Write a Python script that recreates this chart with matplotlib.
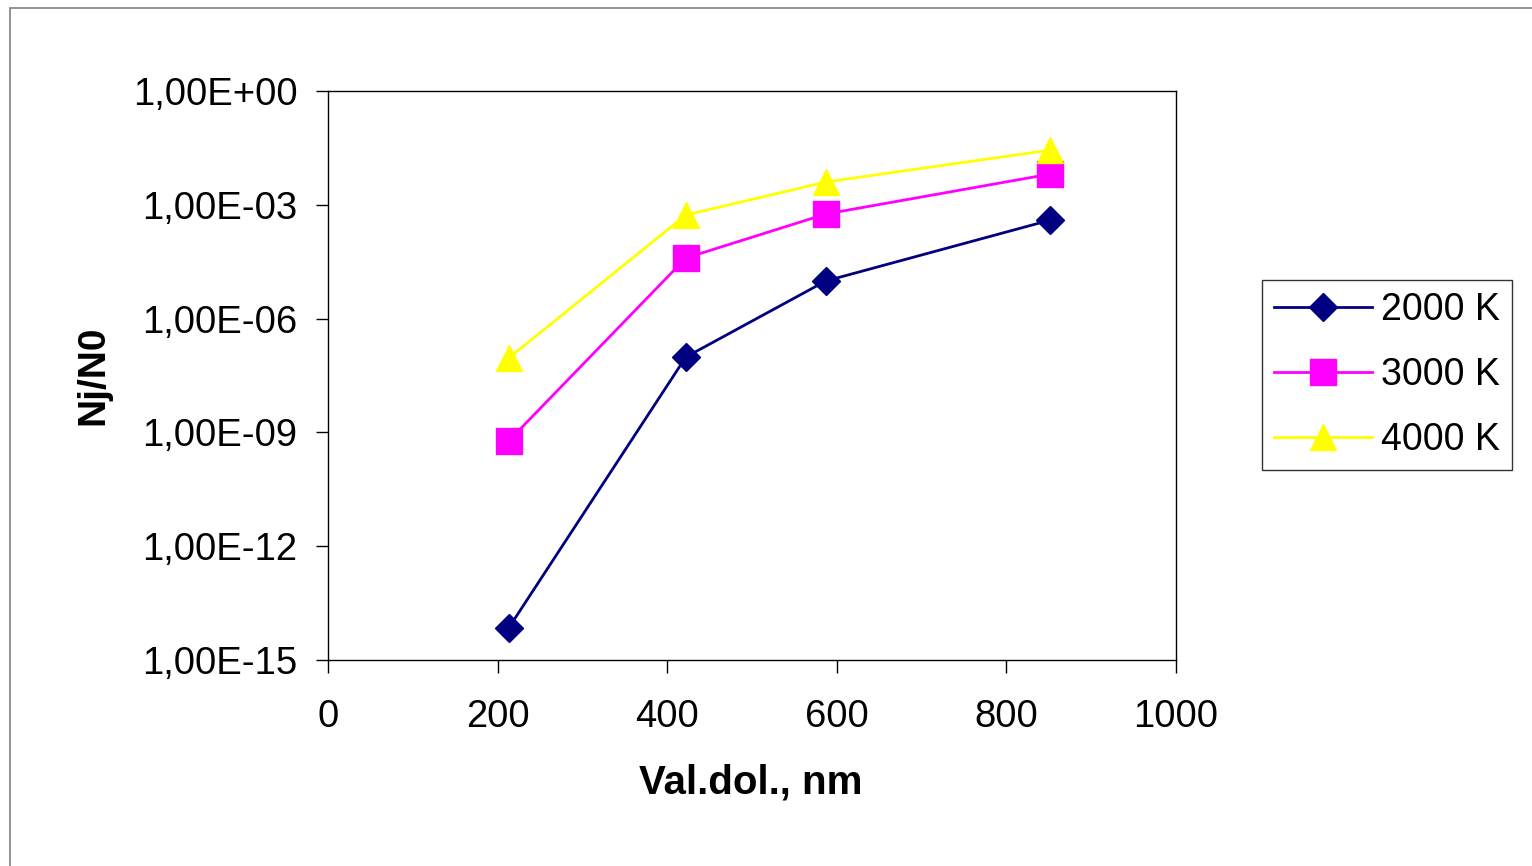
import matplotlib
matplotlib.use("Agg")
import matplotlib.pyplot as plt
from matplotlib.patches import Rectangle

plt.rcParams['font.family'] = ['Liberation Sans', 'DejaVu Sans']

# data
wavelengths = [213, 422, 587, 852]
t2000 = [6.95e-15, 9.7e-8, 9.8e-6, 3.97e-4]
t3000 = [5.93e-10, 3.95e-5, 5.71e-4, 6.48e-3]
t4000 = [9.1e-8, 5.38e-4, 3.99e-3, 2.78e-2]
series_labels = ["2000 K", "3000 K", "4000 K"]
x_ticks = [0, 200, 400, 600, 800, 1000]
y_ticks = [1e-15, 1e-12, 1e-9, 1e-6, 1e-3, 1e0]
y_tick_labels = ["1,00E-15", "1,00E-12", "1,00E-09", "1,00E-06", "1,00E-03", "1,00E+00"]
x_label = "Val.dol., nm"
y_label = "Nj/N0"

W, H = 1532, 866
fig = plt.figure(figsize=(W / 100, H / 100), dpi=100)

# outer frame
fig.patches.append(Rectangle((9.5 / W, -0.1), 1.2, 1 - 7.5 / H + 0.1,
                             transform=fig.transFigure, fill=False,
                             edgecolor='#808080', linewidth=1.2))

ax = fig.add_axes([328 / W, 1 - 660 / H, (1176 - 328) / W, (660 - 91) / H])
ax.set_yscale('log')
ax.set_xlim(0, 1000)
ax.set_ylim(1e-15, 1e0)

lw = 2.0
ax.plot(wavelengths, t2000, color='#000080', marker='D', markersize=14.5,
        linewidth=lw, label=series_labels[0])
ax.plot(wavelengths, t3000, color='#FF00FF', marker='s', markersize=19,
        linewidth=lw, label=series_labels[1])
ax.plot(wavelengths, t4000, color='#FFFF00', marker='^', markersize=19,
        linewidth=lw, label=series_labels[2])

ax.set_xticks(x_ticks)
ax.set_xticklabels([str(v) for v in x_ticks])
ax.set_yticks(y_ticks)
ax.set_yticklabels(y_tick_labels)
ax.yaxis.set_minor_locator(matplotlib.ticker.NullLocator())
ax.tick_params(axis='both', which='major', direction='out', length=9,
               width=1.0, labelsize=27.5, color='black')
ax.tick_params(axis='y', pad=13)
ax.tick_params(axis='x', pad=19)
for s in ax.spines.values():
    s.set_color('black')
    s.set_linewidth(1.0)

fig.text(751 / W, 1 - 782 / H, x_label, fontsize=29, fontweight='bold',
         ha='center', va='center')
fig.text(93 / W, 1 - 375 / H, y_label, fontsize=28, fontweight='bold',
         ha='center', va='center', rotation=90)

leg = fig.legend(loc='center left', bbox_to_anchor=(1262 / W, 1 - 375 / H),
                 fontsize=27, frameon=True, fancybox=False, shadow=False,
                 handlelength=2.6, handletextpad=0.24, labelspacing=0.77,
                 borderpad=0.33, borderaxespad=0.0)
leg.get_frame().set_edgecolor('black')
leg.get_frame().set_linewidth(1.0)

fig.savefig('out.png', dpi=100)
